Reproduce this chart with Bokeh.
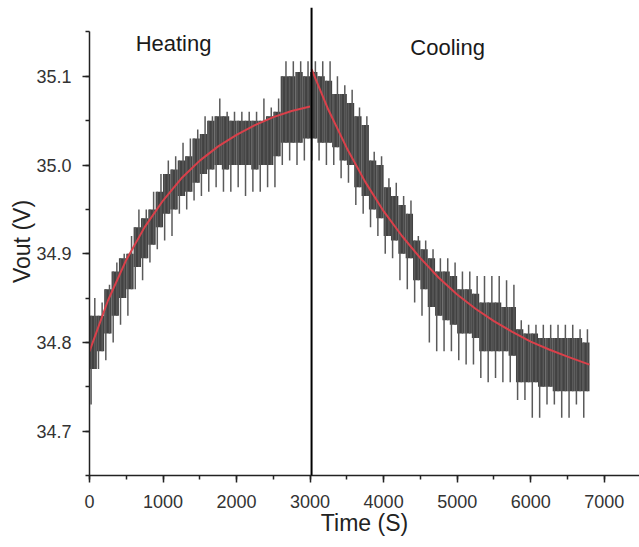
from bokeh.plotting import figure
from bokeh.models import Range1d, SingleIntervalTicker, PrintfTickFormatter, Span, ColumnDataSource
from bokeh.core.properties import value
from bokeh.embed import file_html
from bokeh.resources import INLINE

# ---- data ----
bin_start = [0, 100, 200, 300, 400, 500, 600, 700, 800, 900,
             1000, 1100, 1200, 1300, 1400, 1500, 1600, 1700, 1800, 1900,
             2000, 2100, 2200, 2300, 2400, 2500, 2600, 2700, 2800, 2900,
             3000, 3100, 3200, 3300, 3400, 3500, 3600, 3700, 3800, 3900,
             4000, 4100, 4200, 4300, 4400, 4500, 4600, 4700, 4800, 4900,
             5000, 5100, 5200, 5300, 5400, 5500, 5600, 5700, 5800, 5900,
             6000, 6100, 6200, 6300, 6400, 6500, 6600, 6700]
core_lo = [34.77, 34.79, 34.81, 34.83, 34.85, 34.86, 34.885, 34.895, 34.91, 34.93,
           34.945, 34.95, 34.965, 34.97, 34.98, 34.99, 34.995, 35.0, 34.995, 35.0,
           35.0, 35.0, 34.995, 35.0, 35.0, 35.01, 35.025, 35.025, 35.025, 35.03,
           35.03, 35.025, 35.025, 35.02, 35.005, 35.0, 34.975, 34.965, 34.95, 34.94,
           34.92, 34.915, 34.9, 34.895, 34.87, 34.86, 34.84, 34.83, 34.825, 34.82,
           34.81, 34.81, 34.805, 34.79, 34.79, 34.79, 34.79, 34.785, 34.755, 34.755,
           34.755, 34.75, 34.75, 34.745, 34.745, 34.745, 34.745, 34.745]
core_hi = [34.83, 34.83, 34.86, 34.88, 34.895, 34.90, 34.93, 34.94, 34.95, 34.97,
           34.99, 34.995, 35.005, 35.01, 35.03, 35.035, 35.05, 35.055, 35.055, 35.05,
           35.05, 35.05, 35.05, 35.05, 35.055, 35.06, 35.1, 35.1, 35.105, 35.1,
           35.105, 35.1, 35.095, 35.08, 35.08, 35.07, 35.055, 35.045, 35.005, 35.0,
           34.975, 34.965, 34.955, 34.945, 34.915, 34.905, 34.895, 34.88, 34.88, 34.875,
           34.86, 34.86, 34.855, 34.845, 34.845, 34.845, 34.84, 34.84, 34.815, 34.81,
           34.81, 34.805, 34.805, 34.805, 34.805, 34.805, 34.805, 34.8]
spike_lo = [34.73, 34.77, 34.78, 34.80, 34.82, 34.83, 34.86, 34.87, 34.89, 34.905,
            34.915, 34.92, 34.945, 34.95, 34.96, 34.965, 34.97, 34.975, 34.97, 34.97,
            34.975, 34.965, 34.97, 34.97, 34.975, 34.975, 35.0, 35.005, 35.0, 35.005,
            35.005, 35.005, 35.0, 35.0, 34.985, 34.98, 34.955, 34.945, 34.93, 34.92,
            34.9, 34.895, 34.87, 34.86, 34.845, 34.83, 34.8, 34.79, 34.79, 34.79,
            34.78, 34.775, 34.775, 34.76, 34.755, 34.76, 34.755, 34.755, 34.735, 34.735,
            34.715, 34.715, 34.73, 34.73, 34.715, 34.715, 34.73, 34.715]
spike_hi = [34.85, 34.845, 34.865, 34.89, 34.90, 34.92, 34.95, 34.95, 34.97, 34.99,
            35.005, 35.01, 35.025, 35.03, 35.04, 35.055, 35.055, 35.075, 35.06, 35.06,
            35.06, 35.06, 35.06, 35.075, 35.065, 35.075, 35.117, 35.117, 35.117, 35.117,
            35.117, 35.117, 35.117, 35.1, 35.09, 35.085, 35.065, 35.055, 35.015, 35.01,
            34.985, 34.98, 34.965, 34.96, 34.92, 34.915, 34.905, 34.895, 34.895, 34.89,
            34.88, 34.88, 34.875, 34.875, 34.875, 34.875, 34.87, 34.865, 34.825, 34.82,
            34.82, 34.82, 34.82, 34.82, 34.82, 34.82, 34.815, 34.815]

heat_fit_t = [0, 250, 500, 750, 1000, 1250, 1500, 1750, 2000, 2250, 2500, 2750, 3000]
heat_fit_v = [34.790, 34.847, 34.893, 34.930, 34.960, 34.985, 35.005, 35.021,
              35.034, 35.045, 35.054, 35.061, 35.066]
cool_fit_t = [3020, 3250, 3500, 3750, 4000, 4250, 4500, 4750, 5000, 5250,
              5500, 5750, 6000, 6250, 6500, 6800]
cool_fit_v = [35.108, 35.062, 35.019, 34.981, 34.948, 34.920, 34.895, 34.873,
              34.854, 34.838, 34.824, 34.812, 34.801, 34.792, 34.784, 34.775]

switch_time = 3020
phase_labels = ["Heating", "Cooling"]
phase_label_t = [1143, 4871]
phase_label_v = [35.1375, 35.132]

# ---- figure ----
FONT = "Liberation Sans"
p = figure(width=639, height=547, output_backend="svg", toolbar_location=None,
           x_range=Range1d(0, 7480), y_range=Range1d(34.65, 35.1776),
           min_border_left=89, min_border_right=0, min_border_top=7, min_border_bottom=72)
p.outline_line_color = None
p.grid.visible = False
p.background_fill_color = "white"
p.border_fill_color = "white"

bw = 100
src = ColumnDataSource(dict(
    left=bin_start,
    right=[b + bw for b in bin_start],
    q1=[b + bw * 0.22 for b in bin_start],
    q3=[b + bw * 0.72 for b in bin_start],
    clo=core_lo, chi=core_hi, slo=spike_lo, shi=spike_hi,
))
p.quad(left="left", right="right", bottom="clo", top="chi", source=src,
       fill_color="#424242", line_color=None)
p.segment(x0="q1", x1="q1", y0="slo", y1="chi", source=src,
          line_color="#5a5a5a", line_width=1.5)
p.segment(x0="q3", x1="q3", y0="clo", y1="shi", source=src,
          line_color="#5a5a5a", line_width=1.5)

p.line(heat_fit_t, heat_fit_v, line_color="#d9404a", line_width=2)
p.line(cool_fit_t, cool_fit_v, line_color="#d9404a", line_width=2)

p.add_layout(Span(location=switch_time, dimension="height", line_color="black", line_width=2))

p.text(x=phase_label_t, y=phase_label_v, text=phase_labels,
       text_font=value(FONT), text_font_size="22px", text_color="#1a1a1a",
       text_align="center", text_baseline="alphabetic")

# axes
xa = p.xaxis[0]
xa.ticker = SingleIntervalTicker(interval=1000, num_minor_ticks=2)
xa.axis_label = "Time (S)"
ya = p.yaxis[0]
ya.ticker = SingleIntervalTicker(interval=0.1, num_minor_ticks=2)
ya.formatter = PrintfTickFormatter(format="%.1f")
ya.bounds = (34.65, 35.15)
ya.axis_label = "Vout (V)"
for ax in (xa, ya):
    ax.axis_line_color = "#222222"
    ax.axis_line_width = 1.5
    ax.major_tick_line_color = "#222222"
    ax.minor_tick_line_color = "#222222"
    ax.major_tick_line_width = 1.5
    ax.minor_tick_line_width = 1.5
    ax.major_tick_out = 7
    ax.major_tick_in = 0
    ax.minor_tick_out = 4
    ax.minor_tick_in = 0
    ax.major_label_text_font = FONT
    ax.major_label_text_font_size = "18px"
    ax.major_label_text_color = "#333333"
    ax.axis_label_text_font = FONT
    ax.axis_label_text_font_size = "23px"
    ax.axis_label_text_font_style = "normal"
    ax.axis_label_text_color = "#222222"
xa.major_label_standoff = 12
xa.axis_label_standoff = -1
ya.major_label_standoff = 11
ya.axis_label_standoff = -2

open("out.html", "w").write(file_html(p, INLINE))
